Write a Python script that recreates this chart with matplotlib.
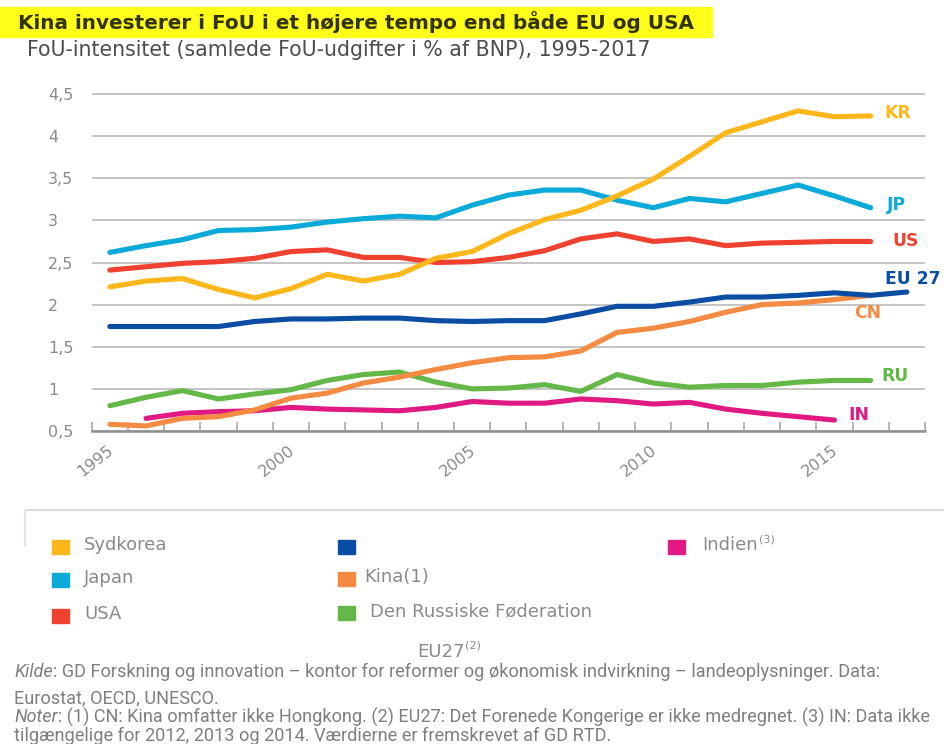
import matplotlib
matplotlib.use('Agg')
import matplotlib.pyplot as plt
from matplotlib.patches import Rectangle
from matplotlib.lines import Line2D

# ---------------- data ----------------
years_all = list(range(1995, 2018))
years_16 = list(range(1995, 2017))
years_in = list(range(1996, 2016))

kr = [2.21, 2.28, 2.31, 2.18, 2.08, 2.19, 2.36, 2.28, 2.36, 2.55, 2.63,
      2.84, 3.01, 3.12, 3.29, 3.49, 3.76, 4.04, 4.17, 4.30, 4.23, 4.24]
jp = [2.62, 2.70, 2.77, 2.88, 2.89, 2.92, 2.98, 3.02, 3.05, 3.03, 3.18,
      3.30, 3.36, 3.36, 3.24, 3.15, 3.26, 3.22, 3.32, 3.42, 3.29, 3.15]
us = [2.41, 2.45, 2.49, 2.51, 2.55, 2.63, 2.65, 2.56, 2.56, 2.50, 2.51,
      2.56, 2.64, 2.78, 2.84, 2.75, 2.78, 2.70, 2.73, 2.74, 2.75, 2.75]
eu = [1.74, 1.74, 1.74, 1.74, 1.80, 1.83, 1.83, 1.84, 1.84, 1.81, 1.80,
      1.81, 1.81, 1.89, 1.98, 1.98, 2.03, 2.09, 2.09, 2.11, 2.14, 2.11, 2.15]
cn = [0.58, 0.56, 0.65, 0.67, 0.75, 0.89, 0.95, 1.07, 1.14, 1.23, 1.31,
      1.37, 1.38, 1.45, 1.67, 1.72, 1.80, 1.91, 2.00, 2.02, 2.06, 2.11]
ru = [0.80, 0.90, 0.98, 0.88, 0.94, 0.99, 1.10, 1.17, 1.20, 1.08, 1.00,
      1.01, 1.05, 0.97, 1.17, 1.07, 1.02, 1.04, 1.04, 1.08, 1.10, 1.10]
ind = [0.65, 0.71, 0.73, 0.74, 0.78, 0.76, 0.75, 0.74, 0.78, 0.85,
       0.83, 0.83, 0.88, 0.86, 0.82, 0.84, 0.76, 0.71, 0.67, 0.63]

ytick_vals = [0.5, 1, 1.5, 2, 2.5, 3, 3.5, 4, 4.5]
ytick_labels = ['0,5', '1', '1,5', '2', '2,5', '3', '3,5', '4', '4,5']
xlabel_years = [1995, 2000, 2005, 2010, 2015]

title = 'Kina investerer i FoU i et højere tempo end både EU og USA'
subtitle = 'FoU-intensitet (samlede FoU-udgifter i % af BNP), 1995-2017'

C_KR, C_JP, C_US, C_EU = '#FDB71A', '#0BAAD9', '#EE4130', '#0A4DA2'
C_CN, C_RU, C_IN = '#F58A42', '#64B847', '#E01A82'

series = [  # (x, y, color, end label, label offset px, ha, zorder)
    (years_in, ind, C_IN, 'IN', (14, 5), 'left', 2),
    (years_16, ru, C_RU, 'RU', (11, 4), 'left', 3),
    (years_16, cn, C_CN, 'CN', (-3, -18), 'center', 4),
    (years_16, us, C_US, 'US', (22, 0), 'left', 5),
    (years_16, jp, C_JP, 'JP', (16, 3), 'left', 6),
    (years_16, kr, C_KR, 'KR', (14, 3), 'left', 7),
    (years_all, eu, C_EU, 'EU 27', (-22, 13), 'left', 8),
]

legend_items = [  # label, color, square x, square y-centre, text x
    ('Sydkorea', C_KR, 52, 547, 84),
    ('', C_EU, 338, 547, 0),
    ('Indien', C_IN, 668, 547, 702),
    ('Japan', C_JP, 52, 580, 84),
    ('Kina(1)', C_CN, 338, 579, 364),
    ('USA', C_US, 52, 616, 84),
    ('Den Russiske Føderation', C_RU, 338, 613, 370),
]

# ---------------- figure ----------------
W, H = 944, 744
fig = plt.figure(figsize=(W / 100, H / 100), dpi=100)
renderer = fig.canvas.get_renderer()


def fx(x):
    return x / W


def fy(y):
    return 1 - y / H


def ptext(x, y, s, **kw):
    return fig.text(fx(x), fy(y), s, **kw)


def width_px(t):
    return t.get_window_extent(renderer).width


def fit(t, w):
    t.set_fontsize(t.get_fontsize() * w / width_px(t))
    return t


# axes geometry (pixels)
ax_left, ax_right, ax_bottom = 91.7, 925.0, 431.0
px_per_unit = 84.25
ytop = 4.55
ax_top = ax_bottom - (ytop - 0.5) * px_per_unit
ax = fig.add_axes([fx(ax_left), fy(ax_bottom), (ax_right - ax_left) / W,
                   (ax_bottom - ax_top) / H])
ax.set_xlim(1994.5, 2017.5)
ax.set_ylim(0.5, ytop)

for xs, ys, col, lab, off, ha, z in series:
    ax.plot(xs, ys, color=col, lw=3.7, solid_capstyle='round',
            solid_joinstyle='round', zorder=z)
    ax.annotate(lab, (xs[-1], ys[-1]), xytext=off, textcoords='offset pixels',
                ha=ha, va='center', color=col, fontsize=12.3,
                fontweight='bold', annotation_clip=False)

# grid / spines
for s in ['top', 'right', 'left']:
    ax.spines[s].set_visible(False)
ax.spines['bottom'].set_color('#8f8f8f')
ax.spines['bottom'].set_linewidth(1.8)
ax.set_yticks(ytick_vals)
ax.set_yticklabels(ytick_labels)
ax.yaxis.grid(True, color='#c4c4c4', lw=1.4)
ax.set_axisbelow(True)
ax.tick_params(axis='y', length=0, pad=31.5, labelsize=11.5,
               labelcolor='#8a8a8a')
for lbl in ax.get_yticklabels():
    lbl.set_ha('left')

ax.set_xticks([y + 0.5 for y in range(1994, 2018)])
ax.set_xticklabels([])
ax.tick_params(axis='x', which='major', direction='in', length=6.5,
               width=1.2, color='#a8a8a8')
ax.set_xticks([y + 0.05 for y in xlabel_years], minor=True)
ax.set_xticklabels([str(y) for y in xlabel_years], minor=True)
ax.tick_params(axis='x', which='minor', length=0, pad=12.5, labelsize=11.5,
               labelcolor='#8a8a8a')
for lbl in ax.get_xticklabels(minor=True):
    lbl.set_rotation(38)
    lbl.set_ha('right')
    lbl.set_va('center')
    lbl.set_rotation_mode('anchor')

# ---------------- title ----------------
fig.patches.append(Rectangle((0, fy(37)), fx(712), 30 / H,
                             transform=fig.transFigure, color='#FFFF1A',
                             zorder=0))
t = ptext(18, 22, title, fontsize=12, fontweight='bold', color='#333300',
          va='center')
fit(t, 672)
t = ptext(27, 50, subtitle, fontsize=12, color='#4d4d4d', va='center')
fit(t, 623)

# ---------------- legend ----------------
fig.lines.append(Line2D([fx(25), fx(944)], [fy(510), fy(510)],
                        transform=fig.transFigure, color='#dcdcdc', lw=1.5))
fig.lines.append(Line2D([fx(25), fx(25)], [fy(510), fy(545)],
                        transform=fig.transFigure, color='#e4e4e4', lw=1.5))

leg_col = '#8a8a8a'
probe = ptext(0, 0, 'Den Russiske Føderation', fontsize=11)
leg_fs = 11 * 222 / width_px(probe)
probe.remove()
for lab, col, sx, sy, tx in legend_items:
    fig.patches.append(Rectangle((fx(sx), fy(sy + 7)), 17 / W, 14 / H,
                                 transform=fig.transFigure, color=col))
    if lab:
        tt = ptext(tx, sy - 2, lab, fontsize=leg_fs, color=leg_col,
                   va='center')
        if lab == 'Indien':
            w = width_px(tt)
            ptext(tx + w + 1, sy - 7, '(3)', fontsize=leg_fs * 0.62,
                  color=leg_col, va='center')

t = ptext(417, 652, 'EU27', fontsize=leg_fs, color=leg_col, va='center')
ptext(417 + width_px(t) + 1, 646, '(2)', fontsize=leg_fs * 0.62,
      color=leg_col, va='center')

# ---------------- footnotes ----------------
foot_family = ['Liberation Sans Narrow', 'Roboto']
fcol = '#7f7f7f'
probe = ptext(0, 0, 'Noter: (1) CN: Kina omfatter ikke Hongkong. (2) EU27: '
              'Det Forenede Kongerige er ikke medregnet. (3) IN: Data ikke',
              fontsize=10, family=foot_family)
ffs = 10 * 921 / width_px(probe)
probe.remove()


def mixed(x, y, ital, rest):
    if ital:
        a = ptext(x, y, ital, fontsize=ffs, style='italic', family=foot_family,
                  color=fcol, va='center')
        x += width_px(a)
    ptext(x, y, rest, fontsize=ffs, family=foot_family, color=fcol,
          va='center')


mixed(14, 672, 'Kilde', ': GD Forskning og innovation – kontor for reformer '
      'og økonomisk indvirkning – landeoplysninger. Data:')
mixed(14, 698, '', 'Eurostat, OECD, UNESCO.')
mixed(14, 717, 'Noter', ': (1) CN: Kina omfatter ikke Hongkong. (2) EU27: '
      'Det Forenede Kongerige er ikke medregnet. (3) IN: Data ikke')
mixed(14, 736, '', 'tilgængelige for 2012, 2013 og 2014. Værdierne er '
      'fremskrevet af GD RTD.')

fig.savefig('out.png', dpi=100)
